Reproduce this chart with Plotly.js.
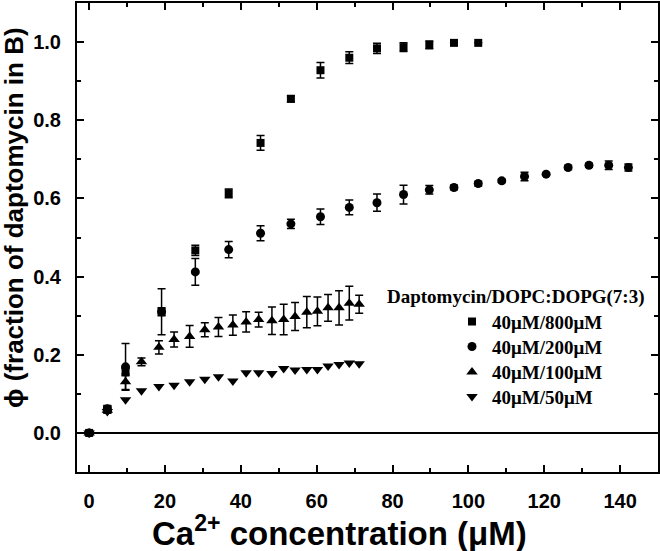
<!DOCTYPE html>
<html>
<head>
<meta charset="utf-8">
<script src="https://cdn.plot.ly/plotly-3.0.1.min.js"></script>
<style>html,body{margin:0;padding:0;background:#fff;}#chart{width:660px;height:551px;}</style>
</head>
<body>
<div id="chart"></div>
<script>
// ---- data ----
const seriesNames = ['40μM/800μM', '40μM/200μM', '40μM/100μM', '40μM/50μM'];
const legendTitle = 'Daptomycin/DOPC:DOPG(7:3)';

const x800 = [0, 4.8, 9.6, 19.1, 28, 36.8, 45.2, 53.2, 61, 68.6, 75.9, 82.9, 89.7, 96.2, 102.6];
const y800 = [0, 0.06, 0.156, 0.31, 0.467, 0.613, 0.742, 0.855, 0.928, 0.96, 0.984, 0.987, 0.993, 0.998, 0.998];
const e800 = [0.005, 0.008, 0.01, 0.01, 0.013, 0.011, 0.019, 0.008, 0.02, 0.015, 0.013, 0.011, 0.01, 0, 0];

const x200 = [0, 4.8, 9.6, 19.1, 28, 36.8, 45.2, 53.2, 61, 68.6, 75.9, 82.9, 89.7, 96.2, 102.6, 108.8, 114.8, 120.5, 126.3, 131.8, 137, 142.2];
const y200 = [0, 0.062, 0.169, 0.31, 0.412, 0.469, 0.511, 0.535, 0.553, 0.577, 0.589, 0.61, 0.622, 0.628, 0.638, 0.645, 0.656, 0.662, 0.679, 0.685, 0.685, 0.679];
const e200 = [0.005, 0.008, 0.06, 0.059, 0.034, 0.021, 0.019, 0.012, 0.02, 0.019, 0.022, 0.024, 0.011, 0.006, 0.006, 0.004, 0.011, 0.003, 0.005, 0.005, 0.011, 0.009];

const x100 = [0, 4.8, 9.6, 13.8, 18.4, 22.4, 26.5, 30.5, 34.1, 37.9, 41.4, 44.7, 48.2, 51.3, 54.3, 57.4, 60.2, 63, 65.9, 68.6, 71.2];
const y100 = [0, 0.058, 0.131, 0.182, 0.219, 0.239, 0.247, 0.264, 0.271, 0.276, 0.284, 0.29, 0.287, 0.29, 0.298, 0.309, 0.311, 0.32, 0.32, 0.332, 0.329];
const e100 = [0.004, 0.008, 0.02, 0.01, 0.017, 0.019, 0.028, 0.018, 0.024, 0.026, 0.026, 0.019, 0.035, 0.039, 0.036, 0.04, 0.037, 0.034, 0.044, 0.043, 0.023];

const x50 = [0, 4.8, 9.6, 13.8, 18.4, 22.4, 26.5, 30.5, 34.1, 37.9, 41.4, 44.7, 48.2, 51.3, 54.3, 57.4, 60.2, 63, 65.9, 68.6, 71.2];
const y50 = [0, 0.055, 0.085, 0.108, 0.119, 0.122, 0.131, 0.137, 0.144, 0.133, 0.154, 0.154, 0.152, 0.165, 0.161, 0.162, 0.162, 0.171, 0.175, 0.179, 0.177];

const xTickVals = [0, 20, 40, 60, 80, 100, 120, 140];
const yTickVals = [0.0, 0.2, 0.4, 0.6, 0.8, 1.0];
const yTickText = ['0.0', '0.2', '0.4', '0.6', '0.8', '1.0'];

// ---- drawing ----
const err = (arr) => ({type: 'data', array: arr, visible: true, color: '#000', thickness: 1.5, width: 4});
const serif = {family: '"Liberation Serif", "Times New Roman", serif', size: 19, color: '#000', weight: 'bold'};

const traces = [
  {x: x800, y: y800, error_y: err(e800), name: seriesNames[0], legend: 'legend',
   mode: 'markers', type: 'scatter', marker: {symbol: 'square', size: 8, color: '#000'}},
  {x: x200, y: y200, error_y: err(e200), name: seriesNames[1], legend: 'legend2',
   mode: 'markers', type: 'scatter', marker: {symbol: 'circle', size: 9, color: '#000'}},
  {x: x100, y: y100, error_y: err(e100), name: seriesNames[2], legend: 'legend3',
   mode: 'markers', type: 'scatter', marker: {symbol: 'triangle-up', size: 10, color: '#000'}},
  {x: x50, y: y50, name: seriesNames[3], legend: 'legend4',
   mode: 'markers', type: 'scatter', marker: {symbol: 'triangle-down', size: 10, color: '#000'}}
];

const L = 77, R = 2, T = 3, B = 79, W = 660, H = 551;
const pw = W - L - R, ph = H - T - B;
const px = (v) => (v - L) / pw;
const py = (v) => (H - B - v) / ph;

const legX = px(452);
const mkLeg = (yy) => ({x: legX, xanchor: 'left', y: py(yy), yanchor: 'middle',
  bgcolor: 'rgba(0,0,0,0)', borderwidth: 0, font: serif, itemclick: false, itemdoubleclick: false});

const sans = '"Liberation Sans", Arial, sans-serif';

const axisCommon = {
  showline: true, linecolor: '#000', linewidth: 2, mirror: 'ticks',
  ticks: 'inside', ticklen: 7, tickwidth: 2, tickcolor: '#000',
  showgrid: false,
  tickfont: {family: sans, size: 20, color: '#000', weight: 'bold'}
};

const layout = {
  width: W, height: H,
  margin: {l: L, r: R, t: T, b: B, pad: 0},
  paper_bgcolor: '#fff', plot_bgcolor: '#fff',
  showlegend: true,
  xaxis: Object.assign({}, axisCommon, {
    range: [-3.2, 150], tickmode: 'array', tickvals: xTickVals, zeroline: false,
    ticklabelstandoff: 10,
    minor: {dtick: 10, tick0: 0, ticks: 'inside', ticklen: 4, tickwidth: 2, tickcolor: '#000', showgrid: false}
  }),
  yaxis: Object.assign({}, axisCommon, {
    range: [-0.1, 1.1], tickmode: 'array', tickvals: yTickVals, ticktext: yTickText,
    zeroline: true, zerolinecolor: '#000', zerolinewidth: 2,
    ticklabelstandoff: 10,
    minor: {dtick: 0.1, tick0: 0, ticks: 'inside', ticklen: 4, tickwidth: 2, tickcolor: '#000', showgrid: false}
  }),
  legend: mkLeg(321.7),
  legend2: mkLeg(346.7),
  legend3: mkLeg(372.2),
  legend4: mkLeg(396.7),
  annotations: [
    {text: legendTitle, xref: 'paper', yref: 'paper', x: px(385), y: py(297), xanchor: 'left', yanchor: 'middle',
     showarrow: false, font: serif},
    {text: 'Ca<sup>2+</sup> concentration (μM)', xref: 'paper', yref: 'paper', x: px(339), y: py(531),
     xanchor: 'center', yanchor: 'middle', showarrow: false,
     font: {family: sans, size: 33, color: '#000', weight: 'bold'}},
    {text: 'ϕ (fraction of daptomycin in B)', xref: 'paper', yref: 'paper', x: px(14), y: py(218),
     xanchor: 'center', yanchor: 'middle', textangle: -90, showarrow: false,
     font: {family: sans, size: 26, color: '#000', weight: 'bold'}}
  ]
};

Plotly.newPlot('chart', traces, layout, {staticPlot: true, displayModeBar: false});
</script>
</body>
</html>
